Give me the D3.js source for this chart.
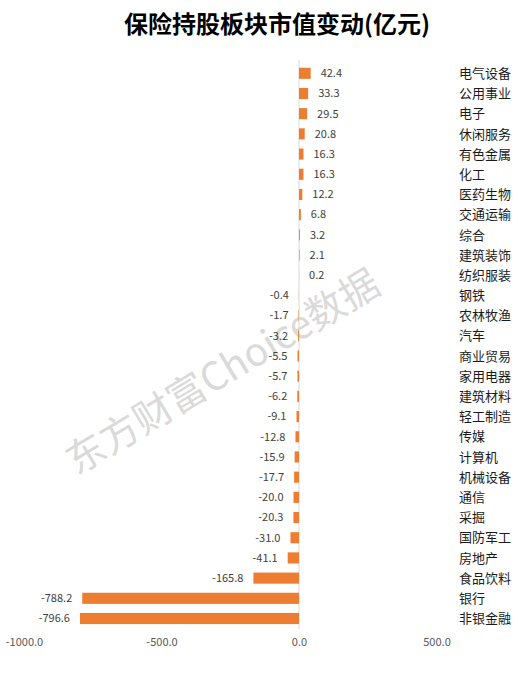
<!DOCTYPE html>
<html><head><meta charset="utf-8">
<script src="https://cdn.jsdelivr.net/npm/d3@7"></script>
<style>body{margin:0;background:#fff}svg{display:block}</style>
</head><body>
<svg id="c" width="518" height="681"></svg>
<script>
const categories = ["电气设备","公用事业","电子","休闲服务","有色金属","化工","医药生物","交通运输","综合","建筑装饰","纺织服装","钢铁","农林牧渔","汽车","商业贸易","家用电器","建筑材料","轻工制造","传媒","计算机","机械设备","通信","采掘","国防军工","房地产","食品饮料","银行","非银金融"];
const values = [42.4,33.3,29.5,20.8,16.3,16.3,12.2,6.8,3.2,2.1,0.2,-0.4,-1.7,-3.2,-5.5,-5.7,-6.2,-9.1,-12.8,-15.9,-17.7,-20.0,-20.3,-31.0,-41.1,-165.8,-788.2,-796.6];
const tickValues = [-1000,-500,0,500];
const title = "保险持股板块市值变动(亿元)";
const watermark = "东方财富Choice数据";

const data = categories.map((c,i)=>({c, v: values[i]}));
const svg = d3.select("#c");
const font = "'Noto Sans CJK SC','Noto Sans',sans-serif";
const fmt = v => v.toFixed(1);

const x = d3.scaleLinear().domain([-1000,500]).range([24,436.5]);
const y = d3.scaleBand().domain(categories).range([63.2,628.6]).paddingInner(0.45).paddingOuter(0.225);

// watermark
svg.append("text")
  .attr("transform","translate(221,369) rotate(-31)")
  .attr("text-anchor","middle").attr("dominant-baseline","central")
  .style("font-family",font).style("font-size","39px")
  .attr("fill","#d0d0d0").attr("fill-opacity",0.8)
  .text(watermark);

// title
svg.append("text").attr("x",277).attr("y",33).attr("text-anchor","middle")
  .style("font-family",font).style("font-size","24px").style("font-weight","bold")
  .attr("fill","#000").text(title);

// zero line
svg.append("line").attr("x1",x(0)).attr("x2",x(0)).attr("y1",60).attr("y2",629)
  .attr("stroke","#d9d9d9").attr("stroke-width",1);

// bars
svg.append("g").selectAll("rect").data(data).join("rect")
  .attr("x",d=>x(Math.min(0,d.v)))
  .attr("width",d=>Math.abs(x(d.v)-x(0)))
  .attr("y",d=>y(d.c)).attr("height",y.bandwidth())
  .attr("fill","#ED7D31");

// value labels
svg.append("g").selectAll("text").data(data).join("text")
  .attr("x",d=> d.v>=0 ? x(d.v)+10 : x(d.v)-10)
  .attr("y",d=>y(d.c)+y.bandwidth()/2)
  .attr("dy","0.35em")
  .attr("text-anchor",d=>d.v>=0?"start":"end")
  .style("font-family",font).style("font-size","11px")
  .attr("fill","#404040")
  .text(d=>fmt(d.v));

// category labels
svg.append("g").selectAll("text").data(data).join("text")
  .attr("x",459)
  .attr("y",d=>y(d.c)+y.bandwidth()/2)
  .attr("dy","0.36em")
  .style("font-family",font).style("font-size","13px")
  .attr("fill","#1a1a1a")
  .text(d=>d.c);

// x axis
const ax = svg.append("g").attr("transform","translate(0,637)")
  .call(d3.axisBottom(x).tickValues(tickValues).tickFormat(fmt).tickSize(0).tickPadding(0));
ax.select(".domain").remove();
ax.selectAll("text").attr("dy","0.71em").attr("y",1)
  .style("font-family",font).style("font-size","11px").attr("fill","#595959");
</script>
</body></html>
